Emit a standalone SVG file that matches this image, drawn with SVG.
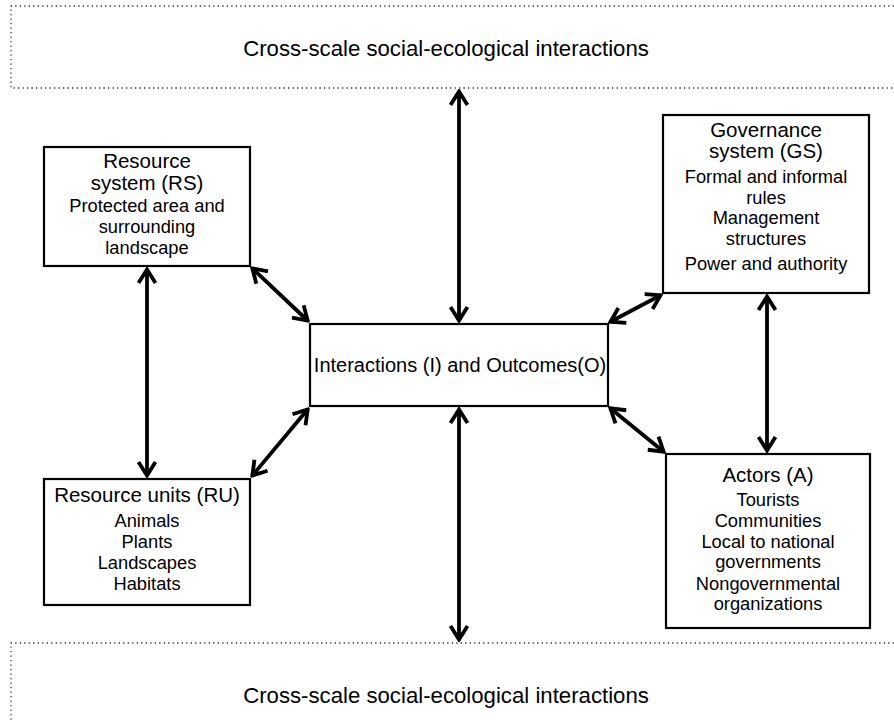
<svg xmlns="http://www.w3.org/2000/svg" width="894" height="722" viewBox="0 0 894 722">
<style>
text{font-family:"Liberation Sans",Arial,sans-serif;fill:#000;text-anchor:middle}
.t{font-size:20.5px}
.i{font-size:18.3px}
.big{font-size:22.2px}
.c{font-size:20px}
.box{fill:#fff;stroke:#000;stroke-width:2.2}
.dot{fill:none;stroke:#333;stroke-width:1.3;stroke-dasharray:1.3 3.2}
.arr{fill:none;stroke:#000;stroke-width:3.8;marker-start:url(#h);marker-end:url(#h)}
</style>
<defs>
<marker id="h" markerUnits="userSpaceOnUse" viewBox="-18 -11 20 22" refX="0" refY="0" markerWidth="20" markerHeight="22" orient="auto-start-reverse">
<path d="M-14,-8.5 L-0.5,0 L-14,8.5" fill="none" stroke="#000" stroke-width="3.8" stroke-linejoin="miter"/>
</marker>
</defs>
<g id="top-scale">
<path class="dot" d="M894,6 H11 V88 H894"/>
<text class="big" x="446" y="56">Cross-scale social-ecological interactions</text>
</g>
<g id="bottom-scale">
<path class="dot" d="M894,643 H11 V722"/>
<text class="big" x="446" y="703">Cross-scale social-ecological interactions</text>
</g>
<g id="connectors">
<line class="arr" x1="459" y1="91" x2="459" y2="321"/>
<line class="arr" x1="459" y1="409" x2="459" y2="640"/>
<line class="arr" x1="147" y1="269" x2="147" y2="476"/>
<line class="arr" x1="767" y1="296" x2="767" y2="451"/>
<line class="arr" x1="252" y1="268" x2="308" y2="321"/>
<line class="arr" x1="308" y1="409" x2="252" y2="476"/>
<line class="arr" x1="661" y1="295" x2="610" y2="322"/>
<line class="arr" x1="610" y1="408" x2="664" y2="452"/>
</g>
<g id="RS">
<rect class="box" x="44" y="147" width="206" height="119"/>
<text class="t" x="147" y="168">Resource</text>
<text class="t" x="147" y="190">system (RS)</text>
<text class="i" x="147" y="212">Protected area and</text>
<text class="i" x="147" y="233">surrounding</text>
<text class="i" x="147" y="254">landscape</text>
</g>
<g id="RU">
<rect class="box" x="44" y="479" width="206" height="126"/>
<text class="t" x="147" y="502">Resource units (RU)</text>
<text class="i" x="147" y="527">Animals</text>
<text class="i" x="147" y="548">Plants</text>
<text class="i" x="147" y="569">Landscapes</text>
<text class="i" x="147" y="590">Habitats</text>
</g>
<g id="I">
<rect class="box" x="310" y="324" width="298" height="82"/>
<text class="c" x="460" y="372">Interactions (I) and Outcomes(O)</text>
</g>
<g id="GS">
<rect class="box" x="663" y="115" width="206" height="178"/>
<text class="t" x="766" y="137">Governance</text>
<text class="t" x="766" y="158">system (GS)</text>
<text class="i" x="766" y="183">Formal and informal</text>
<text class="i" x="766" y="204">rules</text>
<text class="i" x="766" y="224">Management</text>
<text class="i" x="766" y="245">structures</text>
<text class="i" x="766" y="270">Power and authority</text>
</g>
<g id="A">
<rect class="box" x="666" y="454" width="204" height="174"/>
<text class="t" x="768" y="482">Actors (A)</text>
<text class="i" x="768" y="506">Tourists</text>
<text class="i" x="768" y="527">Communities</text>
<text class="i" x="768" y="548">Local to national</text>
<text class="i" x="768" y="568">governments</text>
<text class="i" x="768" y="590">Nongovernmental</text>
<text class="i" x="768" y="610">organizations</text>
</g>
</svg>
